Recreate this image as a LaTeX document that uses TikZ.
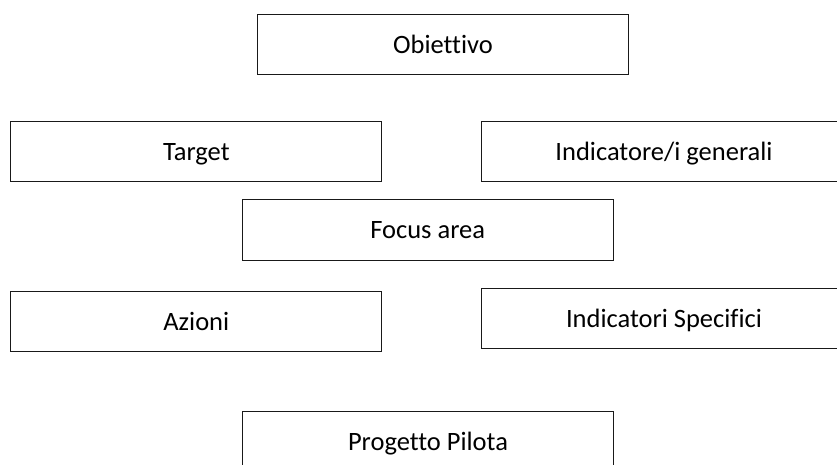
\documentclass[tikz,border=0pt]{standalone}
\usepackage{fontspec}
\setmainfont{Carlito}[Ligatures=NoCommon]
\begin{document}
\begin{tikzpicture}[x=1pt,y=-1pt]
\tikzset{box/.style={draw=black!90, line width=0.9pt, minimum width=371pt, minimum height=60pt, inner sep=0pt, text height=18pt, text depth=0pt, font=\fontsize{26.5}{30}\selectfont}}
\useasboundingbox (0,0) rectangle (837,464);
\node[box] (obj) at (443,44.2) {Obiettivo};
\node[box] (target) at (196.3,151) {Target};
\node[box, minimum width=366pt] (ind) at (664,151.5) {Indicatore/i generali};
\node[box, minimum height=60.7pt] (focus) at (427.7,229.7) {Focus area};
\node[box] (azioni) at (196.3,321) {Azioni};
\node[box, minimum width=366pt] (indspec) at (664,318.3) {Indicatori Specifici};
\node[box] (prog) at (428,441.3) {Progetto Pilota};
\end{tikzpicture}
\end{document}
